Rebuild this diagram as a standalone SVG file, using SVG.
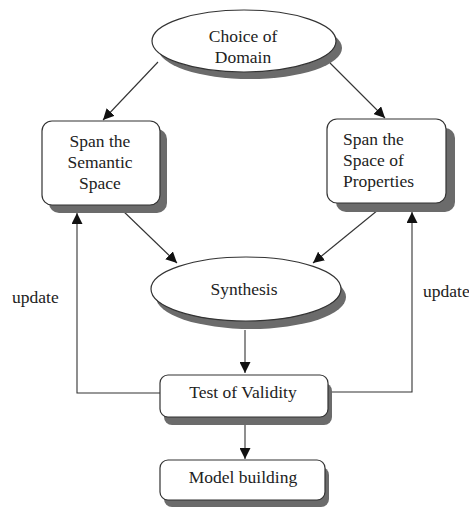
<svg xmlns="http://www.w3.org/2000/svg" width="469" height="509" viewBox="0 0 469 509">
<defs>
<marker id="ah" viewBox="0 0 10 10" refX="10" refY="5" markerWidth="11" markerHeight="11" markerUnits="userSpaceOnUse" orient="auto">
<path d="M0,0 L10,5 L0,10 z" fill="#111"/>
</marker>
<style>
.shape{fill:#fff;stroke:#333;stroke-width:1.2}
.shadow{fill:#6b6b6b;stroke:none}
.t{font-family:"Liberation Serif","Times New Roman",serif;font-size:17.5px;fill:#222}
.c{text-anchor:middle}
.ln{fill:none;stroke:#333;stroke-width:1.1}
</style>
</defs>
<rect width="469" height="509" fill="#fff"/>
<g id="connectors">
<line class="ln" x1="158" y1="62" x2="103" y2="120" marker-end="url(#ah)"/>
<line class="ln" x1="330" y1="63" x2="385" y2="118" marker-end="url(#ah)"/>
<line class="ln" x1="120" y1="208" x2="177" y2="263" marker-end="url(#ah)"/>
<line class="ln" x1="378" y1="210" x2="313" y2="263" marker-end="url(#ah)"/>
<line class="ln" x1="245" y1="330" x2="245" y2="373" marker-end="url(#ah)"/>
<line class="ln" x1="245" y1="424" x2="245" y2="459" marker-end="url(#ah)"/>
<polyline class="ln" points="160,393 77,393 77,213" marker-end="url(#ah)"/>
<polyline class="ln" points="328,392 412,392 412,212" marker-end="url(#ah)"/>
<text class="t" x="12" y="303">update</text>
<text class="t" x="423" y="297">update</text>
</g>
<g id="choice">
<ellipse class="shadow" cx="250" cy="48" rx="92" ry="31"/>
<ellipse class="shape" cx="244" cy="41" rx="92" ry="31"/>
<text class="t c" x="243" y="42">Choice of</text>
<text class="t c" x="243" y="63">Domain</text>
</g>
<g id="semantic">
<rect class="shadow" x="49" y="129" width="118" height="84" rx="10"/>
<rect class="shape" x="42" y="121" width="118" height="84" rx="10"/>
<text class="t c" x="100" y="147">Span the</text>
<text class="t c" x="100" y="168">Semantic</text>
<text class="t c" x="100" y="189">Space</text>
</g>
<g id="properties">
<rect class="shadow" x="336" y="128" width="119" height="84" rx="10"/>
<rect class="shape" x="327" y="119" width="119" height="84" rx="10"/>
<text class="t" x="343" y="145">Span the</text>
<text class="t" x="343" y="166">Space of</text>
<text class="t" x="343" y="187">Properties</text>
</g>
<g id="synthesis">
<ellipse class="shadow" cx="251" cy="297" rx="95" ry="32"/>
<ellipse class="shape" cx="246" cy="289" rx="95" ry="32"/>
<text class="t c" x="244" y="295">Synthesis</text>
</g>
<g id="test">
<rect class="shadow" x="164" y="383" width="168" height="42" rx="8"/>
<rect class="shape" x="160" y="375" width="168" height="42" rx="8"/>
<text class="t c" x="243" y="398">Test of Validity</text>
</g>
<g id="model">
<rect class="shadow" x="164" y="467" width="165" height="40" rx="8"/>
<rect class="shape" x="160" y="460" width="165" height="40" rx="8"/>
<text class="t c" x="243" y="483">Model building</text>
</g>
</svg>
